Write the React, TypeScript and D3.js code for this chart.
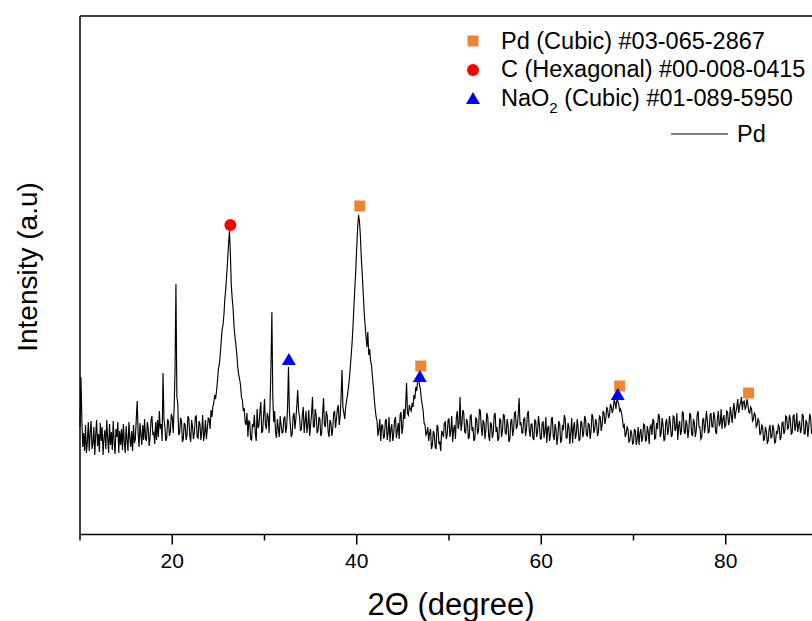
import React from "react";
import * as d3 from "d3";

// XRD scan, 2θ from 10° to 90° in 0.1° steps
const startAngle = 10;
const stepAngle = 0.1;
const intensity = [
  // 10–12
  110, 160, 118, 90, 104, 86, 112, 84, 95, 115, 86, 104, 116, 88, 93, 110, 82, 102, 117, 91,
  // 12–14
  103, 85, 114, 96, 110, 82, 99, 107, 88, 117, 99, 84, 113, 92, 105, 87, 116, 95, 83, 108,
  // 14–16
  100, 115, 84, 106, 92, 108, 87, 113, 95, 84, 111, 97, 86, 115, 99, 90, 106, 86, 112, 94,
  // 16–18
  98, 118, 136, 104, 90, 114, 103, 92, 112, 97, 118, 99, 96, 115, 108, 91, 100, 117, 121, 102,
  // 18–20
  104, 93, 115, 97, 117, 100, 126, 108, 113, 96, 164, 118, 110, 96, 99, 118, 115, 101, 106, 123,
  // 20–22
  120, 104, 128, 165, 253, 140, 134, 102, 104, 119, 116, 95, 98, 114, 112, 97, 102, 121, 118, 101,
  // 22–24
  95, 117, 110, 98, 104, 120, 121, 100, 99, 116, 113, 97, 106, 122, 96, 103, 117, 98, 108, 119,
  // 24–26
  118, 108, 127, 120, 130, 134, 142, 138, 146, 156, 168, 172, 182, 195, 207, 212, 222, 238, 248, 262,
  // 26–28
  276, 292, 306, 284, 252, 238, 228, 210, 200, 192, 183, 170, 162, 158, 152, 140, 137, 126, 129, 115,
  // 28–30
  112, 124, 100, 116, 115, 98, 97, 113, 110, 122, 104, 96, 128, 109, 112, 125, 135, 104, 106, 121,
  // 30–32
  138, 112, 108, 124, 120, 104, 132, 170, 225, 140, 115, 126, 104, 99, 118, 108, 100, 121, 112, 104,
  // 32–34
  105, 119, 120, 104, 110, 130, 170, 125, 112, 100, 103, 121, 124, 108, 118, 131, 147, 126, 120, 106,
  // 34–36
  108, 122, 130, 104, 115, 126, 104, 112, 127, 101, 112, 123, 140, 110, 110, 128, 122, 104, 106, 120,
  // 36–38
  118, 101, 104, 124, 139, 112, 110, 126, 121, 105, 100, 117, 114, 101, 108, 124, 126, 109, 118, 128,
  // 38–40
  132, 112, 120, 140, 167, 130, 124, 118, 130, 136, 142, 150, 158, 170, 182, 195, 212, 232, 250, 268,
  // 40–42
  290, 310, 322, 315, 300, 278, 262, 244, 226, 212, 201, 190, 205, 182, 188, 176, 172, 160, 150, 138,
  // 42–44
  128, 120, 116, 101, 108, 118, 96, 112, 112, 99, 100, 116, 118, 97, 104, 120, 95, 108, 113, 96,
  // 44–46
  102, 117, 120, 99, 107, 114, 98, 122, 125, 103, 110, 128, 118, 132, 154, 124, 122, 132, 128, 126,
  // 46–48
  134, 130, 142, 138, 150, 146, 156, 160, 152, 148, 138, 132, 126, 114, 112, 102, 104, 110, 96, 104,
  // 48–50
  108, 88, 92, 106, 103, 90, 88, 112, 110, 94, 95, 86, 106, 104, 100, 114, 115, 98, 102, 117,
  // 50–52
  118, 100, 106, 121, 95, 108, 112, 98, 120, 126, 108, 114, 140, 106, 113, 127, 124, 105, 104, 118,
  // 52–54
  115, 98, 100, 121, 122, 106, 110, 96, 98, 119, 118, 103, 106, 128, 126, 109, 101, 117, 114, 98,
  // 54–56
  108, 124, 120, 101, 96, 114, 113, 99, 104, 122, 124, 105, 110, 96, 99, 118, 117, 100, 106, 123,
  // 56–58
  121, 104, 103, 118, 112, 95, 98, 116, 118, 101, 107, 124, 125, 108, 111, 122, 139, 112, 115, 104,
  // 58–60
  104, 118, 119, 101, 108, 123, 126, 107, 100, 113, 113, 99, 97, 117, 116, 100, 105, 121, 112, 98,
  // 60–62
  98, 114, 115, 99, 106, 120, 94, 109, 111, 96, 102, 118, 120, 101, 97, 113, 108, 92, 100, 116,
  // 62–64
  113, 95, 96, 112, 107, 122, 118, 99, 99, 114, 110, 93, 104, 119, 94, 110, 115, 98, 103, 118,
  // 64–66
  109, 96, 98, 116, 114, 100, 104, 121, 118, 102, 101, 114, 112, 98, 106, 123, 120, 104, 108, 118,
  // 66–68
  114, 101, 105, 121, 120, 106, 112, 126, 124, 113, 118, 130, 127, 119, 122, 133, 130, 124, 128, 137,
  // 68–70
  134, 128, 138, 136, 133, 126, 128, 124, 118, 110, 112, 100, 103, 110, 108, 95, 96, 107, 104, 93,
  // 70–72
  94, 108, 106, 92, 98, 110, 92, 104, 108, 95, 100, 113, 112, 96, 97, 111, 105, 93, 110, 112,
  // 72–74
  102, 118, 116, 98, 99, 114, 108, 123, 121, 100, 104, 119, 112, 96, 98, 115, 118, 102, 107, 121,
  // 74–76
  113, 100, 102, 121, 120, 106, 109, 124, 97, 111, 116, 102, 106, 125, 124, 105, 103, 117, 112, 99,
  // 76–78
  108, 124, 122, 103, 101, 118, 114, 100, 106, 122, 126, 110, 110, 98, 100, 117, 119, 104, 112, 126,
  // 78–80
  117, 104, 105, 122, 124, 110, 110, 125, 120, 105, 103, 119, 126, 111, 114, 128, 108, 118, 122, 110,
  // 80–82
  112, 126, 125, 112, 116, 130, 122, 114, 128, 134, 118, 125, 130, 138, 124, 131, 134, 140, 127, 135,
  // 82–84
  136, 128, 130, 138, 133, 125, 124, 130, 128, 116, 118, 124, 122, 110, 112, 118, 116, 102, 104, 112,
  // 84–86
  110, 96, 98, 110, 106, 94, 96, 108, 112, 99, 100, 112, 108, 94, 95, 106, 103, 112, 110, 97,
  // 86–88
  100, 114, 115, 103, 106, 121, 120, 108, 109, 122, 118, 103, 104, 121, 122, 106, 112, 124, 105, 112,
  // 88–90
  116, 104, 108, 123, 121, 103, 103, 117, 114, 100, 110, 123, 119, 104, 105, 120, 113, 100, 108, 121,
  112,
];

// phase markers [2θ, intensity]
const pdPeaks = [
  [40.33, 331],
  [46.94, 171],
  [68.5, 151],
  [82.48, 144],
];
const cPeaks = [[26.3, 312]];
const naoPeaks = [
  [32.64, 177],
  [46.84, 160],
  [68.29, 142],
];

const majorTicks = [20, 40, 60, 80];
const minorTicks = [10, 30, 50, 70, 90];

const ORANGE = "#ef8532";
const font = "'Liberation Sans', Arial, sans-serif";

export default function App() {
  const width = 812;
  const height = 621;
  const margin = { top: 16, left: 80 };
  const plotRight = 818;
  const axisY = 534.5;

  const x = d3.scaleLinear().domain([10, 90]).range([margin.left, plotRight]);
  const y = d3.scaleLinear().domain([2.5, 521]).range([axisY, margin.top]);

  const pts: [number, number][] = intensity.map((v, i) => [startAngle + i * stepAngle, v]);
  const line = d3
    .line<[number, number]>()
    .x((d) => x(d[0]))
    .y((d) => y(d[1]));

  const tri = (cx: number, cy: number) =>
    `M${cx},${cy - 7} L${cx + 7},${cy + 5} L${cx - 7},${cy + 5} Z`;

  return (
    <svg
      width={width}
      height={height}
      style={{ position: "absolute", left: 0, top: 0, background: "#fff" }}
      fontFamily={font}
    >
      <path d={line(pts) || ""} fill="none" stroke="#000" strokeWidth={1.15} />

      {/* frame */}
      <line x1={margin.left} x2={margin.left} y1={margin.top} y2={axisY} stroke="#000" strokeWidth={1.5} />
      <line x1={margin.left} x2={plotRight} y1={margin.top} y2={margin.top} stroke="#000" strokeWidth={1.5} />
      <line x1={margin.left} x2={plotRight} y1={axisY} y2={axisY} stroke="#000" strokeWidth={1.5} />
      <line x1={plotRight} x2={plotRight} y1={margin.top} y2={axisY} stroke="#000" strokeWidth={1.5} />

      {majorTicks.map((t) => (
        <g key={t}>
          <line x1={x(t)} x2={x(t)} y1={axisY} y2={axisY + 10} stroke="#000" strokeWidth={1.5} />
          <text x={x(t)} y={568} textAnchor="middle" fontSize={21}>
            {t}
          </text>
        </g>
      ))}
      {minorTicks.map((t) => (
        <line key={t} x1={x(t)} x2={x(t)} y1={axisY} y2={axisY + 6} stroke="#000" strokeWidth={1.5} />
      ))}

      {/* markers */}
      {pdPeaks.map((d, i) => (
        <rect key={i} x={x(d[0]) - 5.5} y={y(d[1]) - 5.5} width={11} height={11} fill={ORANGE} />
      ))}
      {cPeaks.map((d, i) => (
        <circle key={i} cx={x(d[0])} cy={y(d[1])} r={6} fill="#ff0000" />
      ))}
      {naoPeaks.map((d, i) => (
        <path key={i} d={tri(x(d[0]), y(d[1]))} fill="#0000ff" />
      ))}

      {/* legend */}
      <rect x={467.5} y={35.5} width={11} height={11} fill={ORANGE} />
      <text x={501} y={48.5} fontSize={23.5}>Pd (Cubic) #03-065-2867</text>
      <circle cx={473} cy={70} r={6} fill="#ff0000" />
      <text x={501} y={77} fontSize={23.5}>C (Hexagonal) #00-008-0415</text>
      <path d={tri(473, 99)} fill="#0000ff" />
      <text x={501} y={105.5} fontSize={23.5}>
        NaO<tspan dy={7} fontSize={15}>2</tspan>
        <tspan dy={-7}> (Cubic) #01-089-5950</tspan>
      </text>
      <line x1={671} x2={728} y1={134} y2={134} stroke="#000" strokeWidth={1} />
      <text x={737} y={142} fontSize={23.5}>Pd</text>

      {/* axis titles */}
      <text x={451} y={615} textAnchor="middle" fontSize={31}>
        2Θ (degree)
      </text>
      <text transform={`translate(37,267) rotate(-90)`} textAnchor="middle" fontSize={28}>
        Intensity (a.u)
      </text>
    </svg>
  );
}
